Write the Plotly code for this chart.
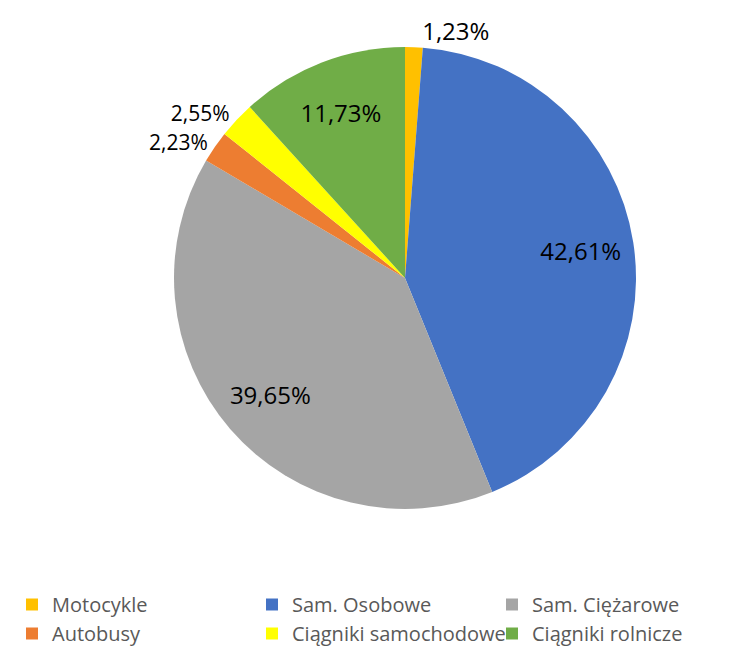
import plotly.graph_objects as go

labels = ["Motocykle", "Sam. Osobowe", "Sam. Ciężarowe", "Autobusy",
          "Ciągniki samochodowe", "Ciągniki rolnicze"]
shares = [1.23, 42.61, 39.65, 2.23, 2.55, 11.73]
colors = ["#FFC000", "#4472C4", "#A5A5A5", "#ED7D31", "#FFFF00", "#70AD47"]
text_pos = ["outside", "inside", "inside", "outside", "outside", "inside"]

W, H = 740, 657
# page has an 8px body margin, so positions are shifted by it
cx, cy, r = 397, 270, 231
pie_domain = dict(x=[(cx - r) / W, (cx + r) / W],
                  y=[1 - (cy + r) / H, 1 - (cy - r) / H])

fig = go.Figure()

# the coloured pie
fig.add_trace(go.Pie(
    labels=labels,
    values=shares,
    sort=False,
    direction="clockwise",
    rotation=0,
    marker=dict(colors=colors, line=dict(width=0)),
    textinfo="none",
    domain=pie_domain,
    hoverinfo="label+percent",
))

# transparent ring on top, only to carry the labels further out (like Excel)
fig.add_trace(go.Pie(
    labels=labels,
    values=shares,
    sort=False,
    direction="clockwise",
    rotation=0,
    hole=0.54,
    marker=dict(colors=["rgba(0,0,0,0)"] * len(labels), line=dict(width=0)),
    texttemplate="%{value:.2f}%",
    textposition=text_pos,
    insidetextorientation="horizontal",
    textfont=dict(family="Open Sans", size=24, color="#000000"),
    # two small neighbours slightly smaller so plotly doesn't scoot them
    outsidetextfont=dict(family="Open Sans", color="#000000",
                         size=[24, 24, 24, 21, 21, 24]),
    domain=pie_domain,
    showlegend=False,
    hoverinfo="skip",
))

fig.update_layout(
    width=W, height=H,
    margin=dict(l=0, r=0, t=0, b=0, autoexpand=False),
    paper_bgcolor="white",
    separators=", ",
    font=dict(family="Open Sans", color="#595959"),
    legend=dict(
        orientation="h",
        x=4 / W, xanchor="left",
        y=1 - 611 / H, yanchor="middle",
        entrywidth=195, entrywidthmode="pixels",
        font=dict(size=20, color="#595959"),
        traceorder="normal",
    ),
)

fig.write_html("out.html")
